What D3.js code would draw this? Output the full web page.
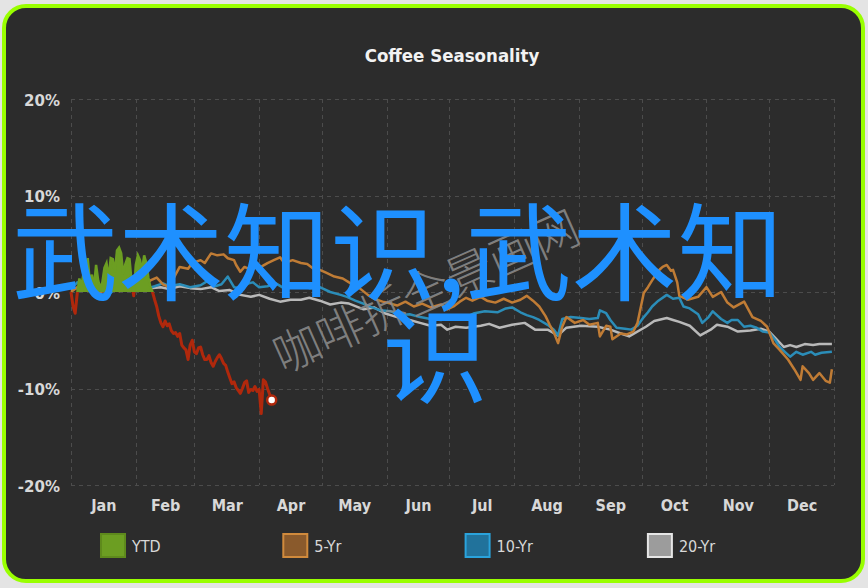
<!DOCTYPE html>
<html><head><meta charset="utf-8">
<script src="https://cdn.jsdelivr.net/npm/d3@7"></script>
<style>
html,body{margin:0;padding:0;background:#e4e4e4;}
svg{display:block;}
</style></head>
<body>
<svg id="c" width="868" height="588"></svg>
<script>
const title = "Coffee Seasonality";
const months = ["Jan","Feb","Mar","Apr","May","Jun","Jul","Aug","Sep","Oct","Nov","Dec"];
const yTicks = [20, 10, 0, -10, -20];
const seriesNames = ["YTD", "5-Yr", "10-Yr", "20-Yr"];

// [day of year, % change]
const ytd = [[0,0.0],[1,-1.5],[2,-2.2],[3,-0.1],[4,1.4],[5,0.6],[6,2.0],[7,0.9],[8,3.5],[9,1.0],[10,1.8],[11,0.5],[12,2.8],[13,1.2],[14,0.4],[15,1.0],[16,2.5],[17,3.0],[18,1.4],[19,3.5],[20,3.4],[21,2.0],[22,4.3],[23,4.6],[24,4.0],[25,1.8],[26,2.9],[27,3.5],[28,3.4],[29,1.0],[30,-0.4],[31,2.8],[32,3.8],[33,3.3],[34,2.2],[35,3.8],[36,3.0],[37,1.5],[38,0.5],[39,0.0],[40,-0.8],[41,-1.5],[42,-2.5],[43,-3.2],[44,-3.6],[45,-3.0],[46,-3.5],[47,-3.3],[48,-4.0],[49,-4.3],[50,-4.2],[51,-4.6],[52,-4.3],[53,-5.5],[54,-5.8],[55,-6.0],[56,-7.0],[57,-5.5],[58,-5.0],[59,-6.2],[60,-6.4],[61,-5.8],[62,-5.7],[63,-6.5],[64,-7.0],[65,-7.0],[66,-6.6],[67,-7.3],[68,-7.7],[69,-7.2],[70,-6.8],[71,-6.5],[72,-6.9],[73,-7.4],[74,-7.6],[75,-8.3],[76,-8.9],[77,-9.5],[78,-9.3],[79,-9.9],[80,-10.2],[81,-10.5],[82,-10.0],[83,-9.4],[84,-9.2],[85,-10.4],[86,-10.1],[87,-10.2],[88,-9.8],[89,-10.3],[90,-10.1],[91,-12.6],[92,-9.1],[93,-9.3],[94,-10.0],[95,-10.6],[96,-11.2]];

const yr5 = [[0,0.0],[3,0.5],[7,0.2],[11,0.4],[14,0.0],[19,0.3],[23,0.1],[28,0.5],[32,0.9],[34,0.5],[38,1.2],[41,1.5],[44,0.8],[47,0.5],[50,1.8],[52,2.6],[56,2.4],[58,3.0],[62,3.3],[64,3.0],[67,4.0],[70,3.8],[73,3.9],[75,3.5],[78,3.3],[79,2.8],[81,2.1],[83,2.6],[86,2.3],[88,2.8],[90,2.5],[94,3.0],[97,3.3],[100,3.6],[102,3.0],[106,3.3],[110,3.0],[113,2.9],[116,2.4],[119,2.3],[122,2.0],[126,1.6],[130,1.4],[133,1.0],[138,0.4],[142,-0.3],[145,-0.7],[149,-1.0],[153,-1.2],[156,-1.4],[160,-1.0],[164,-1.5],[168,-1.2],[172,-1.6],[177,-1.3],[180,-1.8],[183,-1.5],[186,-1.0],[189,-0.6],[192,-0.9],[196,-0.5],[199,-0.9],[203,-1.1],[207,-0.7],[211,-1.1],[215,-0.8],[218,-0.4],[221,-0.9],[224,-1.5],[227,-2.5],[229,-3.4],[231,-4.2],[233,-5.3],[235,-3.6],[237,-2.6],[241,-3.2],[245,-2.9],[248,-3.4],[252,-3.2],[253,-4.6],[256,-3.5],[258,-3.6],[259,-4.9],[263,-4.3],[266,-4.4],[269,-4.1],[271,-3.2],[274,-0.1],[276,0.5],[278,1.2],[281,2.2],[283,2.6],[285,2.8],[287,2.2],[288,2.3],[290,1.0],[291,-0.4],[295,-0.8],[300,-0.5],[304,0.5],[307,-0.5],[311,0.0],[314,-1.1],[317,-1.6],[322,-1.0],[326,-2.6],[330,-3.0],[333,-3.6],[336,-5.3],[339,-6.0],[343,-7.0],[346,-8.0],[349,-9.1],[350,-7.7],[353,-8.4],[355,-9.1],[358,-8.4],[361,-9.2],[363,-9.4],[364,-8.0]];

const yr10 = [[0,0.3],[3,1.0],[7,0.5],[11,0.8],[14,0.2],[19,-0.1],[22,0.6],[26,0.3],[31,1.0],[33,0.9],[37,0.4],[40,0.6],[44,0.9],[47,0.6],[52,0.8],[57,0.5],[62,0.7],[65,1.1],[69,0.6],[72,0.8],[75,1.6],[78,0.5],[81,0.4],[85,0.9],[87,1.0],[90,0.5],[94,0.6],[98,0.9],[101,0.5],[105,0.8],[110,0.6],[114,0.4],[119,0.5],[124,0.0],[129,-0.3],[132,-0.5],[136,-0.9],[141,-1.3],[144,-1.6],[148,-1.9],[153,-2.0],[157,-2.4],[162,-2.3],[167,-2.6],[172,-2.8],[177,-2.9],[181,-2.7],[186,-2.4],[189,-2.6],[193,-2.2],[198,-2.0],[204,-2.1],[208,-1.7],[211,-1.6],[215,-2.1],[218,-2.4],[221,-2.6],[224,-2.9],[228,-3.4],[231,-3.9],[233,-4.5],[235,-2.8],[239,-2.6],[244,-2.7],[248,-2.8],[252,-2.7],[253,-1.9],[256,-2.2],[258,-2.9],[261,-3.7],[265,-3.8],[268,-3.9],[271,-3.5],[274,-2.6],[276,-2.1],[278,-1.5],[281,-0.9],[285,-0.3],[288,-0.7],[291,-0.6],[293,-1.5],[296,-1.7],[300,-2.3],[302,-3.2],[305,-2.6],[307,-2.0],[311,-2.8],[314,-3.2],[316,-2.9],[319,-2.9],[322,-3.6],[325,-3.5],[328,-3.7],[331,-4.1],[334,-4.2],[337,-5.0],[339,-5.7],[342,-6.3],[344,-6.7],[347,-6.2],[350,-6.5],[354,-6.2],[356,-6.5],[359,-6.3],[364,-6.2]];

const yr20 = [[0,0.2],[4,0.5],[9,0.3],[14,0.6],[19,0.2],[23,0.5],[28,0.3],[33,0.6],[38,0.4],[43,0.5],[47,0.3],[52,0.6],[57,0.4],[62,0.3],[67,0.5],[71,0.1],[76,0.2],[81,-0.3],[86,-0.5],[90,-0.3],[95,-0.7],[100,-1.0],[105,-0.8],[110,-0.8],[114,-0.6],[119,-0.9],[124,-1.3],[129,-1.1],[133,-1.2],[140,-1.8],[145,-1.6],[150,-2.2],[156,-2.6],[162,-2.9],[167,-3.2],[172,-3.5],[177,-3.4],[180,-3.9],[184,-3.6],[189,-3.7],[196,-3.5],[200,-3.3],[205,-3.7],[211,-3.4],[217,-3.2],[222,-3.9],[228,-3.9],[233,-4.5],[237,-3.7],[244,-3.5],[252,-3.6],[258,-3.9],[263,-4.3],[267,-4.6],[275,-3.6],[279,-3.0],[285,-2.7],[288,-2.9],[291,-3.1],[296,-3.5],[301,-4.5],[306,-3.9],[309,-3.4],[314,-3.6],[319,-4.1],[325,-4.0],[330,-3.8],[334,-4.1],[338,-5.0],[341,-5.7],[344,-5.5],[347,-5.7],[351,-5.4],[355,-5.5],[358,-5.4],[364,-5.4]];

const overlayText1 = "武术知识,武术知";
const overlayText2 = "识";
const watermark = "咖啡拆全景画网";

const svg = d3.select("#c");
const year0 = new Date(2023, 0, 1), year1 = new Date(2024, 0, 1);
const dayDate = d => d3.timeDay.offset(year0, d);

const x = d3.scaleTime().domain([year0, year1]).range([71, 834]);
const y = d3.scaleLinear().domain([-20, 20]).range([485, 99]);

// frame
svg.append("rect").attr("x", 4).attr("y", 6).attr("width", 859).attr("height", 575)
  .attr("rx", 22).attr("fill", "#2c2c2c").attr("stroke", "#99ff00").attr("stroke-width", 4);

svg.append("text").attr("x", 452).attr("y", 62).attr("text-anchor", "middle")
  .attr("font-family", "DejaVu Sans Condensed, DejaVu Sans").attr("font-weight", "bold")
  .attr("font-size", 18.5).attr("fill", "#f2f2f2").text(title);

// grid
const grid = svg.append("g").attr("stroke", "#4c4c4c").attr("stroke-width", 1).attr("stroke-dasharray", "4,4");
grid.selectAll("line.h").data(yTicks).join("line")
  .attr("x1", x(year0)).attr("x2", x(year1)).attr("y1", d => Math.round(y(d)) + 0.5).attr("y2", d => Math.round(y(d)) + 0.5);
grid.selectAll("line.v").data(d3.timeMonth.range(year0, d3.timeDay.offset(year1, 1))).join("line")
  .attr("x1", d => Math.round(x(d)) + 0.5).attr("x2", d => Math.round(x(d)) + 0.5).attr("y1", y(20)).attr("y2", y(-20));

// axes
const yAxis = svg.append("g").attr("transform", `translate(${x(year0)},0)`)
  .call(d3.axisLeft(y).tickValues(yTicks).tickFormat(d => d + "%").tickSize(0).tickPadding(11));
yAxis.select(".domain").remove();
yAxis.selectAll("text").attr("font-family", "DejaVu Sans").attr("font-weight", "bold")
  .attr("font-size", 15).attr("fill", "#d8d8d8").attr("dy", "0.42em");

const monthStarts = d3.timeMonth.range(year0, year1);
const monthMids = monthStarts.map(m => new Date((m.getTime() + d3.timeMonth.offset(m, 1).getTime()) / 2));
const xAxis = svg.append("g").attr("transform", `translate(0,${y(-20)})`)
  .call(d3.axisBottom(x).tickValues(monthMids).tickFormat((d, i) => months[i]).tickSize(0).tickPadding(15));
xAxis.select(".domain").remove();
xAxis.selectAll("text").attr("font-family", "DejaVu Sans Condensed, DejaVu Sans").attr("font-weight", "bold")
  .attr("font-size", 16).attr("fill", "#d8d8d8");

// clip regions
const defs = svg.append("defs");
defs.append("clipPath").attr("id", "above").append("rect")
  .attr("x", 60).attr("y", 80).attr("width", 800).attr("height", y(0) - 80);
defs.append("clipPath").attr("id", "below").append("rect")
  .attr("x", 60).attr("y", y(0)).attr("width", 800).attr("height", 300);

const line = d3.line().x(d => x(dayDate(d[0]))).y(d => y(d[1]));
const area = d3.area().x(d => x(dayDate(d[0]))).y0(y(0)).y1(d => y(d[1]));

const lines = svg.append("g").attr("fill", "none").attr("stroke-linejoin", "round");
lines.append("path").datum(yr20).attr("d", line).attr("stroke", "#b9b9b9").attr("stroke-width", 2.5);
lines.append("path").datum(yr10).attr("d", line).attr("stroke", "#2b8db8").attr("stroke-width", 2.5);
lines.append("path").datum(yr5).attr("d", line).attr("stroke", "#c07c35").attr("stroke-width", 2.5);

// YTD
svg.append("path").datum(ytd).attr("d", area).attr("clip-path", "url(#above)").attr("fill", "#6c9e22");
svg.append("path").datum(ytd).attr("d", line).attr("clip-path", "url(#above)")
  .attr("fill", "none").attr("stroke", "#6c9e22").attr("stroke-width", 2.5);
svg.append("path").datum(ytd).attr("d", line).attr("clip-path", "url(#below)")
  .attr("fill", "none").attr("stroke", "#b0280c").attr("stroke-width", 3).attr("stroke-linejoin", "round");
const last = ytd[ytd.length - 1];
svg.append("circle").attr("cx", x(dayDate(last[0]))).attr("cy", y(last[1])).attr("r", 4.5)
  .attr("fill", "#ffffff").attr("stroke", "#b0280c").attr("stroke-width", 2.5);

// legend
const legendFill = ["#6c9e22", "#8a5a2c", "#21729b", "#9c9c9c"];
const legendStroke = ["#5e8a1c", "#d08a3c", "#2aa3dc", "#e6e6e6"];
const lg = svg.append("g").selectAll("g").data(seriesNames).join("g")
  .attr("transform", (d, i) => `translate(${101 + i * 182.3},534)`);
lg.append("rect").attr("width", 24).attr("height", 23).attr("fill", (d, i) => legendFill[i])
  .attr("stroke", (d, i) => legendStroke[i]).attr("stroke-width", 2);
lg.append("text").attr("x", 31).attr("y", 18).attr("font-family", "DejaVu Sans Condensed, DejaVu Sans")
  .attr("font-size", 16).attr("fill", "#d8d8d8").text(d => d);

// watermark
svg.append("text").attr("transform", "translate(283,374) rotate(-24)")
  .attr("font-family", "Noto Sans CJK SC").attr("font-weight", 300).attr("font-size", 47)
  .attr("fill", "#8a8a8a").attr("fill-opacity", 0.9).text(watermark);

// overlay text
const ov = svg.append("g").attr("font-family", "Noto Sans CJK SC").attr("font-size", 106).attr("fill", "#1e90ff");
ov.append("text").attr("x", 12).attr("y", 292).text(overlayText1);
ov.append("text").attr("x", 382).attr("y", 395).text(overlayText2);
</script>
</body></html>
